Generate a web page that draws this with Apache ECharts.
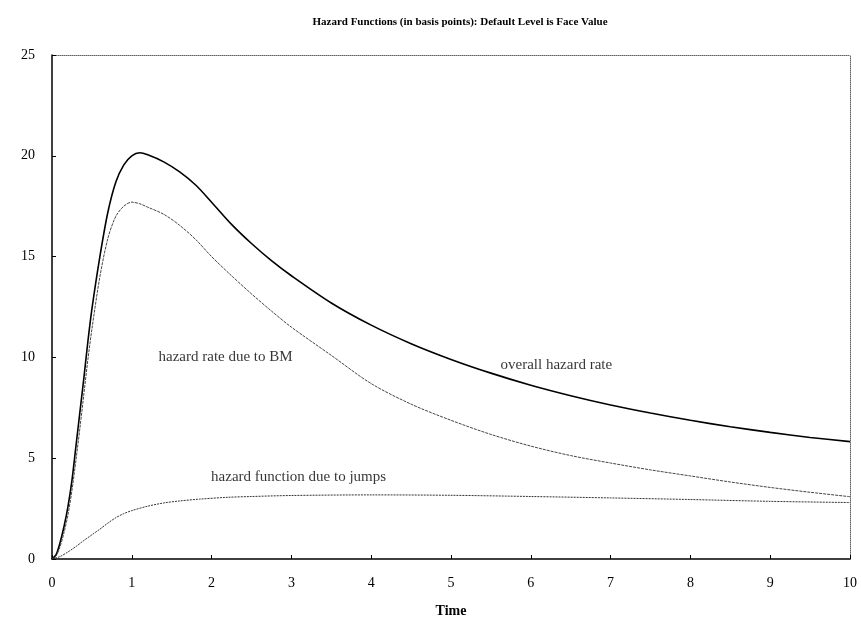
<!DOCTYPE html>
<html>
<head>
<meta charset="utf-8">
<script src="https://cdn.jsdelivr.net/npm/echarts@6/dist/echarts.min.js"></script>
<style>html,body{margin:0;padding:0;background:#fff}#c{width:861px;height:621px}</style>
</head>
<body>
<div id="c"></div>
<script>
var overallX = [0,0.05,0.1,0.15,0.2,0.25,0.3,0.35,0.4,0.45,0.5,0.6,0.7,0.8,0.9,1.0,1.1,1.2,1.4,1.6,1.8,2.0,2.25,2.5,2.75,3.0,3.5,4.0,4.5,5.0,5.5,6.0,6.5,7.0,7.5,8.0,8.5,9.0,9.5,10];
var overallY = [0,0.2,0.8,1.6,2.6,3.9,5.6,7.3,9.0,10.8,12.4,15.0,17.2,18.7,19.55,20.0,20.15,20.05,19.7,19.2,18.55,17.7,16.6,15.65,14.8,14.05,12.7,11.6,10.68,9.9,9.22,8.62,8.1,7.64,7.24,6.88,6.56,6.28,6.03,5.82];
var bmX = [0,0.05,0.1,0.15,0.2,0.25,0.3,0.35,0.4,0.45,0.5,0.6,0.7,0.8,0.9,1.0,1.1,1.2,1.4,1.6,1.8,2.0,2.25,2.5,2.75,3.0,3.5,4.0,4.5,5.0,5.5,6.0,6.5,7.0,7.5,8.0,8.5,9.0,9.5,10];
var bmY = [0,0.15,0.6,1.3,2.2,3.4,4.9,6.5,8.2,9.9,11.4,14.0,15.9,17.0,17.5,17.7,17.62,17.45,17.1,16.55,15.85,15.0,14.05,13.15,12.3,11.5,10.1,8.7,7.68,6.88,6.18,5.6,5.13,4.76,4.42,4.12,3.82,3.55,3.31,3.09];
var jumpX = [0,0.1,0.2,0.3,0.4,0.5,0.6,0.7,0.8,0.9,1.0,1.2,1.4,1.6,1.85,2.2,2.5,3,4,5,6,7,8,9,10];
var jumpY = [0,0.12,0.35,0.62,0.92,1.2,1.48,1.78,2.05,2.25,2.4,2.62,2.78,2.88,2.97,3.06,3.1,3.15,3.18,3.16,3.1,3.03,2.95,2.86,2.8];
var labelTexts = ["hazard rate due to BM","overall hazard rate","hazard function due to jumps"];
var labelX = [2.175,6.32,3.09];
var labelY = [10.0,9.62,4.08];
var xTicks = [0,1,2,3,4,5,6,7,8,9,10];
var yTicks = [0,5,10,15,20,25];

function pairs(xs, ys){ return xs.map(function(x,i){ return [x, ys[i]]; }); }

var serif = '"Liberation Serif", "DejaVu Serif", serif';
var chart = echarts.init(document.getElementById('c'));
chart.setOption({
  backgroundColor: '#fff',
  animation: false,
  title: {
    text: 'Hazard Functions (in basis points): Default Level is Face Value',
    left: 455, top: 12, textAlign: 'center',
    textStyle: {fontFamily: serif, fontSize: 11, fontWeight: 'bold', color: '#000'}
  },
  grid: {left: 52, right: 11, top: 55, bottom: 62, containLabel: false, outerBoundsMode: 'none'},
  xAxis: [{
    type: 'value', min: xTicks[0], max: xTicks[xTicks.length-1], interval: 1,
    name: 'Time', nameLocation: 'middle', nameGap: 45,
    nameTextStyle: {fontFamily: serif, fontSize: 14, fontWeight: 'bold', color: '#000'},
    axisLine: {onZero: false, lineStyle: {color: '#000', width: 1.5}},
    axisTick: {inside: true, length: 4, lineStyle: {color: '#000'}},
    axisLabel: {fontFamily: serif, fontSize: 14, color: '#000', margin: 17},
    splitLine: {show: false}
  }, {
    type: 'value', position: 'top', min: 0, max: 10,
    axisLine: {show: true, onZero: false, lineStyle: {color: '#666', type: [1, 1], width: 1}},
    axisTick: {show: false}, axisLabel: {show: false}, splitLine: {show: false}
  }],
  yAxis: [{
    type: 'value', min: yTicks[0], max: yTicks[yTicks.length-1], interval: 5,
    axisLine: {show: true, onZero: false, lineStyle: {color: '#000', width: 1.5}},
    axisTick: {show: true, inside: true, length: 4, lineStyle: {color: '#000'}},
    axisLabel: {fontFamily: serif, fontSize: 14, color: '#000', margin: 17},
    splitLine: {show: false}
  }, {
    type: 'value', position: 'right', min: 0, max: 25,
    axisLine: {show: true, onZero: false, lineStyle: {color: '#666', type: [1, 1], width: 1}},
    axisTick: {show: false}, axisLabel: {show: false}, splitLine: {show: false}
  }],
  series: [{
    type: 'line', name: 'overall', data: pairs(overallX, overallY), smooth: 0.3,
    showSymbol: false, lineStyle: {color: '#000', width: 1.6}
  }, {
    type: 'line', name: 'BM', data: pairs(bmX, bmY), smooth: 0.3,
    showSymbol: false, lineStyle: {color: '#444', width: 1, type: [3, 1]}
  }, {
    type: 'line', name: 'jumps', data: pairs(jumpX, jumpY), smooth: 0.3,
    showSymbol: false, lineStyle: {color: '#333', width: 1, type: [2, 1]}
  }, {
    type: 'scatter', symbolSize: 0, silent: true,
    data: labelTexts.map(function(t,i){ return {name: t, value: [labelX[i], labelY[i]]}; }),
    label: {show: true, position: 'inside', formatter: '{b}', fontFamily: serif, fontSize: 15, color: '#000'}
  }]
});
</script>
</body>
</html>
